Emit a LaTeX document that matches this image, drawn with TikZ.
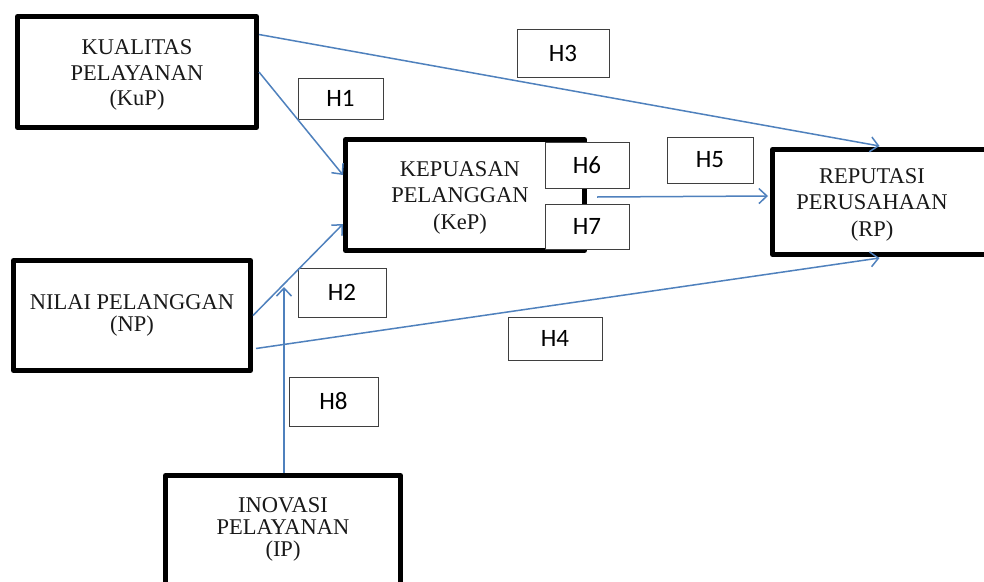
\documentclass[tikz,border=0pt]{standalone}
\usepackage{fontspec}
\setmainfont{Liberation Serif}
\newfontfamily\hfont{Carlito}
\usetikzlibrary{arrows.meta,calc}
\definecolor{arrowblue}{HTML}{4F81BD}
\definecolor{hgray}{HTML}{3F3F3F}
\tikzset{
  bigbox/.style={draw=black, line width=5pt, line join=round, fill=white, inner sep=0pt, align=center},
  boxtext/.style={inner sep=0pt, align=center, text=black!90},
  hbox/.style={draw=hgray, line width=1pt, fill=white, inner sep=0pt, font=\hfont\fontsize{25}{25}\selectfont},
  link/.style={draw=arrowblue, line width=1.5pt, -{Straight Barb[length=8pt,width=15pt,line width=1.5pt]}}
}
\begin{document}
\begin{tikzpicture}[x=1pt,y=-1pt]
\useasboundingbox (0,0) rectangle (984,581);
\clip (0,0) rectangle (984,581);
\fill[white] (0,0) rectangle (984,581);
% main boxes
\node[bigbox, minimum width=239pt, minimum height=111pt] (kup) at (137,72) {};
\node[boxtext, font=\fontsize{22.5}{25.5}\selectfont] (kuptext) at (137,75) {KUALITAS\\PELAYANAN\\(KuP)};
\node[bigbox, minimum width=239pt, minimum height=111pt] (kep) at (465,195) {};
\node[boxtext, font=\fontsize{22.5}{26.5}\selectfont] (keptext) at (460,197.5) {KEPUASAN\\PELANGGAN\\(KeP)};
\node[bigbox, minimum width=230pt, minimum height=105pt] (rp) at (887.5,202) {};
\node[boxtext, font=\fontsize{22.5}{26.5}\selectfont] (rptext) at (872,204.5) {REPUTASI\\PERUSAHAAN\\(RP)};
\node[bigbox, minimum width=237pt, minimum height=110pt] (np) at (132,315.5) {};
\node[boxtext, font=\fontsize{22.5}{22}\selectfont] (nptext) at (132,315) {NILAI PELANGGAN\\(NP)};
\node[bigbox, minimum width=235pt, minimum height=111pt] (ip) at (283,531) {};
\node[boxtext, font=\fontsize{22.5}{22}\selectfont] (iptext) at (283,529) {INOVASI\\PELAYANAN\\(IP)};
% hypothesis labels
\node[hbox, minimum width=85pt, minimum height=41pt] (h1) at (340.5,98.5) {H1};
\node[hbox, minimum width=88pt, minimum height=49pt] (h2) at (342,292.5) {H2};
\node[hbox, minimum width=92pt, minimum height=48pt] (h3) at (563,53) {H3};
\node[hbox, minimum width=94pt, minimum height=43pt] (h4) at (555,338.5) {H4};
\node[hbox, minimum width=86pt, minimum height=46pt] (h5) at (710,160) {H5};
\node[hbox, minimum width=84pt, minimum height=46pt] (h6) at (587,165) {H6};
\node[hbox, minimum width=84pt, minimum height=45pt] (h7) at (587,226.5) {H7};
\node[hbox, minimum width=89pt, minimum height=49pt] (h8) at (333.5,401.5) {H8};
% connectors
\coordinate (h8tip) at (284,287);
\draw[link] ($(kup.north east)+(0,20.5)$) -- ($(rp.north west)+(109.5,-1)$);
\draw[link] (kup.east) -- ($(kep.west)+(0,-20)$);
\draw[link] (np.east) -- ($(kep.west)+(0,29)$);
\draw[link] ($(np.east)+(3,33)$) -- ($(rp.south west)+(109.5,1)$);
\draw[link] ($(kep.east)+(10,2)$) -- ($(rp.west)+(-2,-6)$);
\draw[link] ([xshift=1pt]ip.north) -- ([xshift=1pt]ip.north |- h8tip);
\end{tikzpicture}
\end{document}
